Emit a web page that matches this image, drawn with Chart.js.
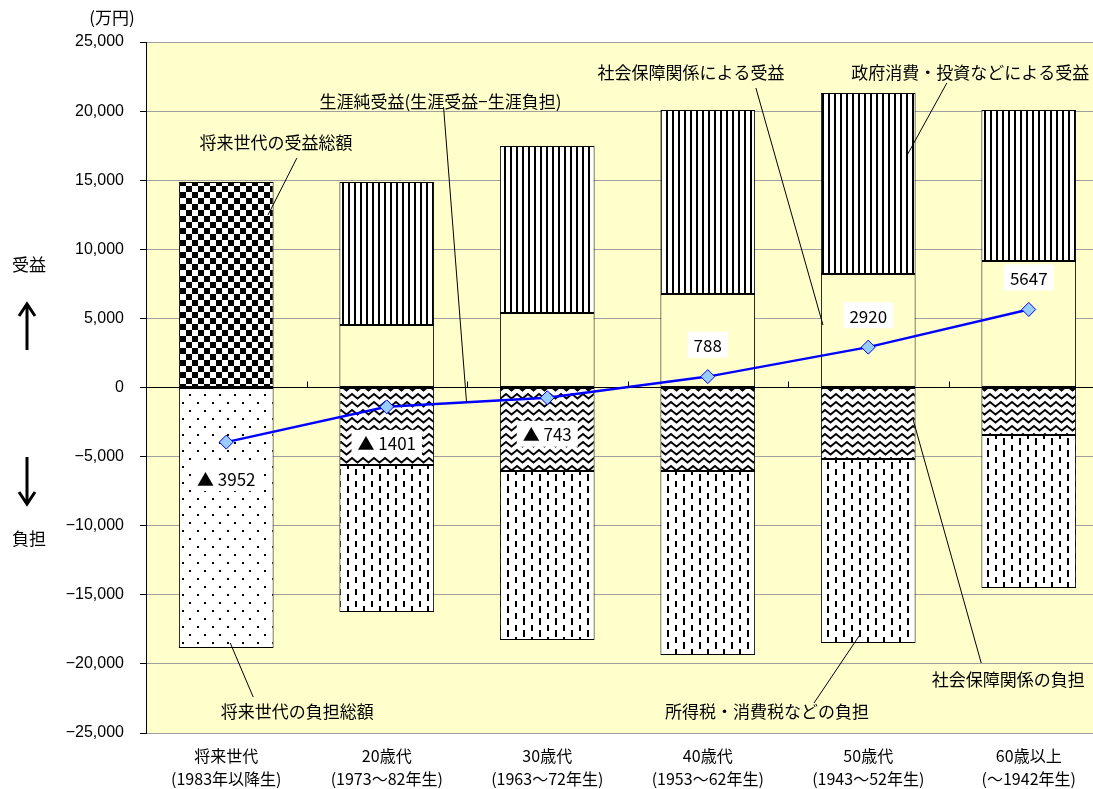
<!DOCTYPE html>
<html>
<head>
<meta charset="utf-8">
<script src="https://cdn.jsdelivr.net/npm/chart.js@4.4.0/dist/chart.umd.min.js"></script>
<style>
  body { margin: 0; background: #fff; overflow: hidden; }
</style>
</head>
<body>
<canvas id="chart" width="1117" height="789"></canvas>
<script>
// categories and values (万円)
const categories = [
  ['将来世代', '(1983年以降生)'],
  ['20歳代', '(1973〜82年生)'],
  ['30歳代', '(1963〜72年生)'],
  ['40歳代', '(1953〜62年生)'],
  ['50歳代', '(1943〜52年生)'],
  ['60歳以上', '(〜1942年生)']
];
const futureBenefit = [14870, null, null, null, null, null];
const socialBenefit = [null, 4520, 5390, 6770, 8210, 9150];
const govBenefit = [null, 10350, 12080, 13310, 13100, 10930];
const futureBurden = [-18850, null, null, null, null, null];
const socialBurden = [null, -5610, -6040, -6040, -5170, -3440];
const taxBurden = [null, -10640, -12230, -13310, -13310, -11070];
const netBenefit = [-3952, -1401, -743, 788, 2920, 5647];

// callouts: text anchor and leader line in (category index, value)
const callouts = [
  { text: '将来世代の受益総額', tx: 0.31, ty: 17690, from: [0.44, 16600], to: [0.26, 12480] },
  { text: '生涯純受益(生涯受益−生涯負担)', tx: 1.335, ty: 20660, from: [1.354, 20290], to: [1.497, -1050] },
  { text: '社会保障関係による受益', tx: 2.895, ty: 22760, from: [3.30, 21670], to: [3.718, 4520] },
  { text: '政府消費・投資などによる受益', tx: 4.635, ty: 22760, from: [4.49, 22040], to: [4.236, 16680] },
  { text: '将来世代の負担総額', tx: 0.443, ty: -23480, from: [0.025, -18490], to: [0.168, -22400] },
  { text: '所得税・消費税などの負担', tx: 3.369, ty: -23480, from: [3.943, -17980], to: [3.662, -22830] },
  { text: '社会保障関係の負担', tx: 4.872, ty: -21160, from: [4.28, -2350], to: [4.704, -19940] }
];

const JP = '"Noto Sans CJK JP", "Noto Sans", sans-serif';

function makePattern(w, h, draw) {
  const c = document.createElement('canvas');
  c.width = w; c.height = h;
  const g = c.getContext('2d');
  g.fillStyle = '#fff';
  g.fillRect(0, 0, w, h);
  g.fillStyle = '#000';
  g.strokeStyle = '#000';
  draw(g);
  return document.getElementById('chart').getContext('2d').createPattern(c, 'repeat');
}

const checker = makePattern(12, 12, g => {
  g.fillRect(0, 0, 6, 6);
  g.fillRect(6, 6, 6, 6);
});
const dots = makePattern(15, 16, g => {
  g.fillRect(2, 2, 2, 2);
  g.fillRect(9, 10, 2, 2);
});
const stripes = makePattern(6, 4, g => {
  g.fillRect(0, 0, 2, 4);
});
const waves = makePattern(11, 8, g => {
  g.lineWidth = 1.8;
  g.beginPath();
  g.moveTo(-2.75, 5.5);
  g.lineTo(0, 2);
  g.lineTo(5.5, 6.5);
  g.lineTo(11, 2);
  g.lineTo(13.75, 5.5);
  g.stroke();
});
const dashes = makePattern(16, 12, g => {
  g.fillRect(3, 1, 2, 6);
  g.fillRect(11, 6, 2, 6);
  g.fillRect(11, 0, 2, 1);
});

const plotBg = {
  id: 'plotBg',
  beforeDraw(chart) {
    const { ctx, chartArea: a } = chart;
    ctx.save();
    ctx.fillStyle = '#FFFFCC';
    ctx.fillRect(a.left, a.top, a.right - a.left, a.bottom - a.top);
    ctx.restore();
  }
};

const extras = {
  id: 'extras',
  afterDraw(chart) {
    const { ctx } = chart;
    const xs = chart.scales.x, ys = chart.scales.y;
    const step = xs.getPixelForValue(1) - xs.getPixelForValue(0);
    const px = i => xs.getPixelForValue(0) + i * step;
    ctx.save();

    // category tick marks on zero line
    const y0 = ys.getPixelForValue(0);
    ctx.strokeStyle = '#000';
    ctx.lineWidth = 1;
    for (let i = 1; i < categories.length; i++) {
      const x = Math.round(xs.getPixelForValue(i) - step / 2) + 0.5;
      ctx.beginPath();
      ctx.moveTo(x, y0 - 6);
      ctx.lineTo(x, y0);
      ctx.stroke();
    }

    // callouts
    ctx.font = '17px ' + JP;
    ctx.fillStyle = '#000';
    ctx.textAlign = 'center';
    ctx.textBaseline = 'middle';
    callouts.forEach(c => {
      ctx.beginPath();
      ctx.moveTo(px(c.from[0]), ys.getPixelForValue(c.from[1]));
      ctx.lineTo(px(c.to[0]), ys.getPixelForValue(c.to[1]));
      ctx.stroke();
      ctx.fillText(c.text, px(c.tx), ys.getPixelForValue(c.ty));
    });

    // value labels for net benefit
    ctx.font = '17px ' + JP;
    netBenefit.forEach((v, i) => {
      const x = xs.getPixelForValue(i);
      const y = ys.getPixelForValue(v) + (v < 0 ? 36 : -32);
      const t = v < 0 ? '▲ ' + Math.abs(v) : String(v);
      const w = ctx.measureText(t).width + 12;
      ctx.fillStyle = '#fff';
      ctx.fillRect(x - w / 2, y - 13, w, 26);
      ctx.fillStyle = '#000';
      ctx.fillText(t, x, y + 1);
    });

    // left side 受益 / 負担 with arrows
    ctx.font = '17px ' + JP;
    ctx.fillText('受益', 29, 265);
    ctx.fillText('負担', 29, 539);
    ctx.fillText('(万円)', 112, 18);
    ctx.lineWidth = 3;
    ctx.beginPath(); ctx.moveTo(27, 350); ctx.lineTo(27, 305); ctx.stroke();
    ctx.beginPath(); ctx.moveTo(19, 316); ctx.lineTo(27, 304); ctx.lineTo(35, 316); ctx.stroke();
    ctx.beginPath(); ctx.moveTo(27, 457); ctx.lineTo(27, 503); ctx.stroke();
    ctx.beginPath(); ctx.moveTo(19, 492); ctx.lineTo(27, 504); ctx.lineTo(35, 492); ctx.stroke();
    ctx.restore();
  }
};

const barDefaults = { borderColor: '#000', borderWidth: 1, stack: 'main', order: 1, borderSkipped: false };

new Chart(document.getElementById('chart'), {
  type: 'bar',
  data: {
    labels: categories,
    datasets: [
      { type: 'line', label: '生涯純受益', data: netBenefit, stack: 'net', order: 0,
        borderColor: '#0000FF', borderWidth: 2.5, pointStyle: 'rectRot', pointRadius: 7,
        pointBackgroundColor: '#99CCFF', pointBorderColor: '#0000FF', pointBorderWidth: 1, tension: 0 },
      Object.assign({ label: '将来世代の受益総額', data: futureBenefit, backgroundColor: checker }, barDefaults),
      Object.assign({ label: '社会保障関係による受益', data: socialBenefit, backgroundColor: '#FFFFCC' }, barDefaults),
      Object.assign({ label: '政府消費・投資などによる受益', data: govBenefit, backgroundColor: stripes }, barDefaults),
      Object.assign({ label: '将来世代の負担総額', data: futureBurden, backgroundColor: dots }, barDefaults),
      Object.assign({ label: '社会保障関係の負担', data: socialBurden, backgroundColor: waves }, barDefaults),
      Object.assign({ label: '所得税・消費税などの負担', data: taxBurden, backgroundColor: dashes }, barDefaults)
    ]
  },
  options: {
    responsive: false,
    animation: false,
    layout: { padding: { top: 42, right: 2, left: 0, bottom: 0 } },
    datasets: { bar: { barPercentage: 0.59, categoryPercentage: 1 } },
    plugins: { legend: { display: false }, tooltip: { enabled: false } },
    scales: {
      x: {
        stacked: true,
        grid: { display: false },
        border: { display: false },
        ticks: { color: '#000', font: { family: JP, size: 16, lineHeight: 1.4 }, padding: 4, maxRotation: 0 },
        afterFit(s) { s.height = 56; }
      },
      y: {
        stacked: true,
        min: -25000, max: 25000,
        grid: {
          color: c => (c.tick && c.tick.value === 0 ? '#000' : '#A0A0A0'),
          tickColor: '#000', tickLength: 6
        },
        border: { color: '#000' },
        ticks: {
          stepSize: 5000, color: '#000', padding: 16,
          font: { family: '"Liberation Sans", Arial, sans-serif', size: 16 },
          callback: v => (v < 0 ? '−' : '') + Math.abs(v).toLocaleString('en-US')
        },
        afterFit(s) { s.width = 146; }
      }
    }
  },
  plugins: [plotBg, extras]
});
</script>
</body>
</html>
